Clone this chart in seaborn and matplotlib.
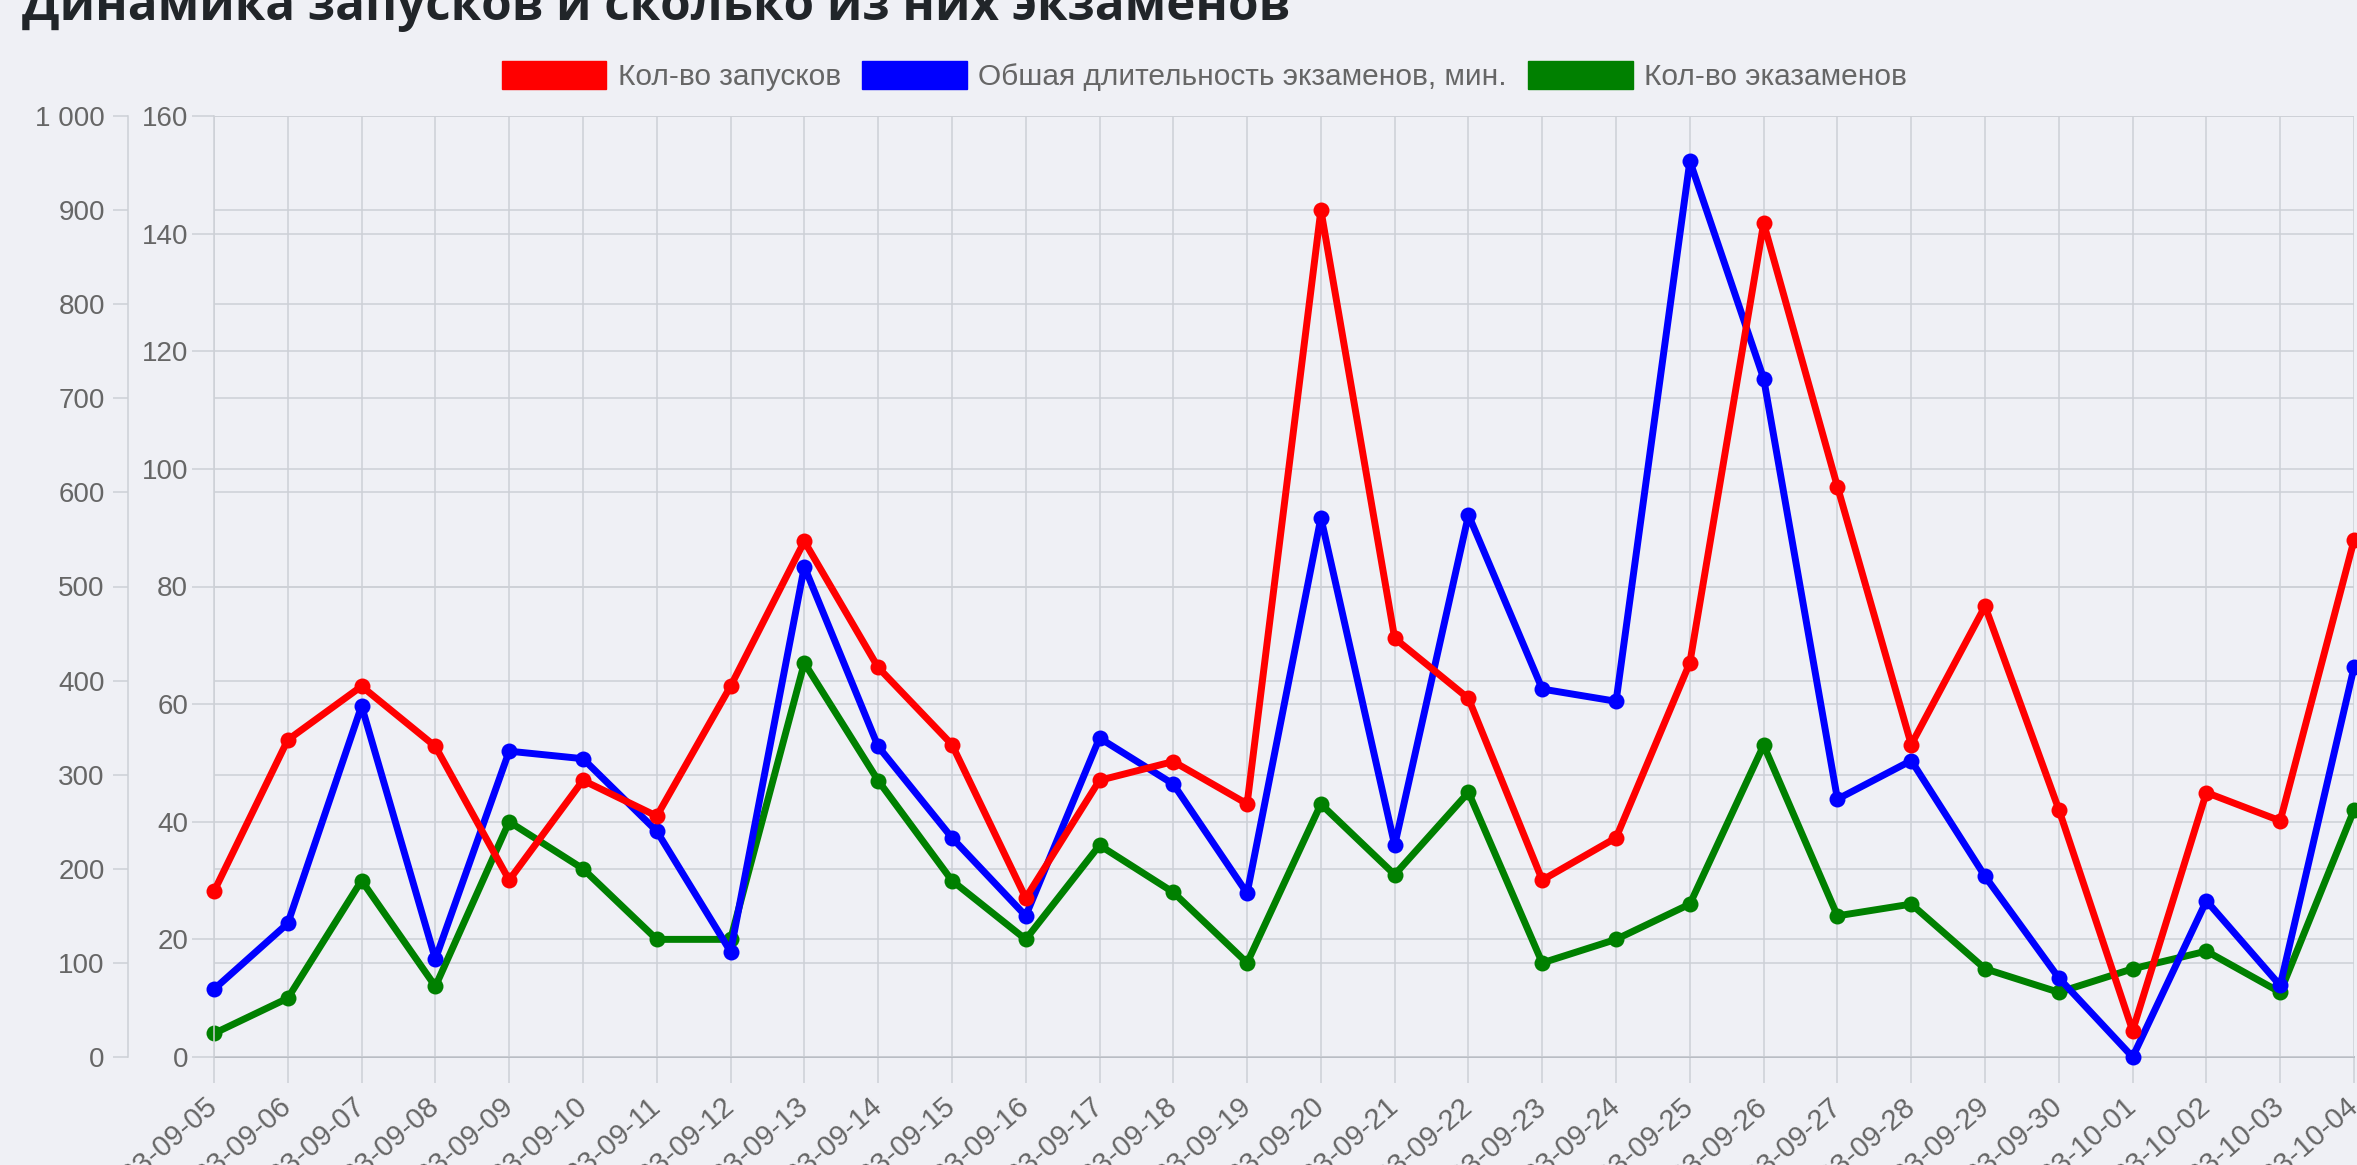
import numpy as np
import pandas as pd
import seaborn as sns
import matplotlib.pyplot as plt
from matplotlib.patches import Patch
from matplotlib.ticker import FuncFormatter

dates = ['2023-09-05', '2023-09-06', '2023-09-07', '2023-09-08', '2023-09-09',
         '2023-09-10', '2023-09-11', '2023-09-12', '2023-09-13', '2023-09-14',
         '2023-09-15', '2023-09-16', '2023-09-17', '2023-09-18', '2023-09-19',
         '2023-09-20', '2023-09-21', '2023-09-22', '2023-09-23', '2023-09-24',
         '2023-09-25', '2023-09-26', '2023-09-27', '2023-09-28', '2023-09-29',
         '2023-09-30', '2023-10-01', '2023-10-02', '2023-10-03', '2023-10-04']

# left outer axis (0..1000)
launches = [176, 337, 394, 330, 188, 294, 256, 394, 548, 414,
            332, 169, 294, 314, 269, 900, 445, 381, 188, 233,
            419, 886, 606, 332, 479, 263, 28, 281, 251, 549]
duration = [72, 142, 373, 104, 325, 317, 240, 112, 521, 330,
            233, 150, 339, 290, 174, 573, 225, 576, 391, 378,
            952, 721, 274, 315, 192, 84, 0, 166, 76, 414]
# inner axis (0..160)
exams = [4, 10, 30, 12, 40, 32, 20, 20, 67, 47,
         30, 20, 36, 28, 16, 43, 31, 45, 16, 20,
         26, 53, 24, 26, 15, 11, 15, 18, 11, 42]

title = 'Динамика запусков и сколько из них экзаменов'
labels = ['Кол-во запусков', 'Обшая длительность экзаменов, мин.', 'Кол-во эказаменов']
colors = ['#ff0000', '#0000ff', '#008000']

bg = '#eff0f5'
grid_c = '#cdd0d6'
txt_c = '#666666'

sns.set_style('white', {'axes.facecolor': bg, 'figure.facecolor': bg})
plt.rcParams['font.family'] = ['Liberation Sans', 'DejaVu Sans']

df = pd.DataFrame({'day': np.arange(len(dates)), 'launches': launches,
                   'duration': duration, 'exams': exams})

W, H = 2357, 1165
fig = plt.figure(figsize=(W / 100, H / 100), dpi=100)
rect = [214 / W, 1 - 1057 / H, (2354 - 214) / W, (1057 - 116) / H]
ax_out = fig.add_axes(rect)
ax_in = ax_out.twinx()
ax_line = ax_out.twinx()

line_kw = dict(marker='o', linewidth=5, markersize=11.5, markeredgewidth=0, legend=False)
sns.lineplot(data=df, x='day', y='exams', ax=ax_in, color=colors[2], **line_kw)
sns.lineplot(data=df, x='day', y='duration', ax=ax_line, color=colors[1], **line_kw)
sns.lineplot(data=df, x='day', y='launches', ax=ax_line, color=colors[0], **line_kw)
for ln in ax_in.lines + ax_line.lines:
    ln.set_clip_on(False)

# outer axis 0..1000
ax_out.set_xlim(0, len(dates) - 1)
ax_out.set_ylim(0, 1000)
ax_out.set_yticks(range(0, 1001, 100))
ax_out.yaxis.set_major_formatter(FuncFormatter(lambda v, _: f'{int(v):,}'.replace(',', ' ')))
ax_out.spines['left'].set_position(('outward', 62))
ax_out.spines['left'].set_color(grid_c)
ax_out.spines['left'].set_linewidth(1.1)
ax_out.spines['top'].set_visible(False)
ax_out.spines['right'].set_visible(False)
ax_out.spines['bottom'].set_color('#b8bcc3')
ax_out.spines['bottom'].set_linewidth(1.4)
ax_out.tick_params(axis='y', length=10.8, width=1.1, color=grid_c, pad=5.8,
                   labelsize=20, labelcolor=txt_c, left=True)
ax_out.set_xticks(df['day'])
ax_out.set_xticklabels(dates, rotation=41, ha='right', va='center', rotation_mode='anchor')
ax_out.tick_params(axis='x', length=19, width=1.1, color=grid_c, pad=14,
                   labelsize=21, labelcolor=txt_c, bottom=True)
ax_out.grid(True, color=grid_c, linewidth=1.1)
ax_out.set_xlabel('')
ax_out.set_ylabel('')

# inner axis 0..160
ax_in.set_ylim(0, 160)
ax_in.set_yticks(range(0, 161, 20))
ax_in.yaxis.tick_left()
ax_in.tick_params(axis='y', length=15.8, width=1.1, color=grid_c, pad=2.9,
                  labelsize=20, labelcolor=txt_c)
ax_in.grid(True, axis='y', color=grid_c, linewidth=1.1)
for s in ['top', 'right', 'bottom']:
    ax_in.spines[s].set_visible(False)
ax_in.spines['left'].set_color(grid_c)
ax_in.spines['left'].set_linewidth(1.1)
ax_in.set_ylabel('')

ax_line.set_ylim(0, 1000)
ax_line.axis('off')

fig.text(22 / W, 1 - 20 / H, title, fontsize=35.5, fontweight='bold',
         family=['Open Sans', 'DejaVu Sans'], color='#212529', va='baseline')

handles = [Patch(facecolor=c, edgecolor=c) for c in colors]
fig.legend(handles, labels, loc='center', bbox_to_anchor=(0.511, 1 - 76 / H), ncol=3,
           frameon=False, fontsize=21.5, labelcolor=txt_c, handlelength=3.5,
           handleheight=1.1, handletextpad=0.4, columnspacing=0.7)

fig.savefig('out.png', dpi=100, facecolor=bg)
